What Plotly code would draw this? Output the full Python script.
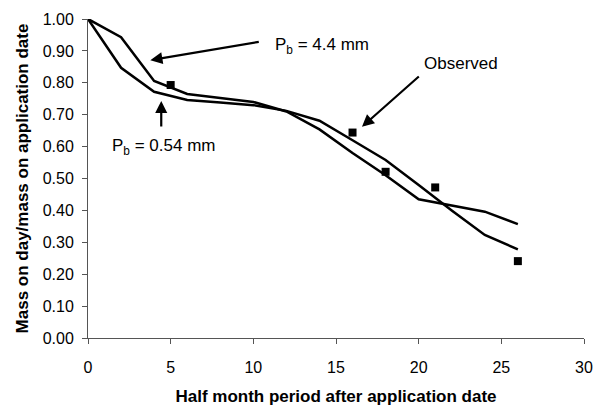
import plotly.graph_objects as go

# half-month periods after application
periods = [0, 2, 4, 6, 8, 10, 12, 14, 16, 18, 20, 22, 24, 26]

# simulated mass ratios
pb_44 = [1.00, 0.943, 0.806, 0.765, 0.752, 0.740, 0.710, 0.654, 0.580, 0.510, 0.435, 0.416, 0.396, 0.357]
pb_054 = [1.00, 0.847, 0.772, 0.746, 0.738, 0.730, 0.712, 0.681, 0.620, 0.558, 0.480, 0.400, 0.323, 0.278]

# observed values
obs_x = [5, 16, 18, 21, 26]
obs_y = [0.793, 0.644, 0.521, 0.472, 0.241]

y_ticks = [0.0, 0.1, 0.2, 0.3, 0.4, 0.5, 0.6, 0.7, 0.8, 0.9, 1.0]
x_ticks = [0, 5, 10, 15, 20, 25, 30]

font_family = "Arial, Liberation Sans, sans-serif"

fig = go.Figure()

for ys, name in [(pb_44, "Pb = 4.4 mm"), (pb_054, "Pb = 0.54 mm")]:
    fig.add_trace(
        go.Scatter(
            x=periods,
            y=ys,
            mode="lines",
            name=name,
            line=dict(color="black", width=2.5),
            cliponaxis=False,
        )
    )

fig.add_trace(
    go.Scatter(
        x=obs_x,
        y=obs_y,
        mode="markers",
        name="Observed",
        marker=dict(symbol="square", size=8, color="black"),
        cliponaxis=False,
    )
)

# labels with arrows (text at tail, arrow head at x/y)
labels = [
    ("P<sub>b</sub> = 4.4 mm", 11.2, 0.915, (3.77, 0.871), (10.42, 0.929)),
    ("P<sub>b</sub> = 0.54 mm", 1.35, 0.599, (4.43, 0.743), (4.43, 0.658)),
    ("Observed", 20.2, 0.862, (16.57, 0.662), (20.1, 0.824)),
]
for text, tx, ty, head, tail in labels:
    fig.add_annotation(
        x=tx, y=ty, text=text, showarrow=False, xanchor="left", yanchor="middle",
        font=dict(size=17, color="black", family=font_family),
    )
    fig.add_annotation(
        x=head[0], y=head[1], ax=tail[0], ay=tail[1], axref="x", ayref="y",
        text="", showarrow=True, arrowhead=2, arrowsize=1.1, arrowwidth=2.2,
        arrowcolor="black",
    )

axis_common = dict(
    showgrid=False,
    zeroline=False,
    showline=True,
    linecolor="#555555",
    linewidth=1,
    ticks="outside",
    ticklen=5,
    tickcolor="#555555",
    tickfont=dict(size=16, color="black", family=font_family),
)

fig.update_xaxes(
    range=[0, 30],
    tickvals=x_ticks,
    ticklabelstandoff=10,
    title=dict(
        text="<b>Half month period after application date</b>",
        font=dict(size=17, color="black", family=font_family),
        standoff=14,
    ),
    **axis_common,
)
fig.update_yaxes(
    range=[0, 1],
    tickvals=y_ticks,
    tickformat=".2f",
    ticklabelstandoff=5,
    title=dict(
        text="<b>Mass on day/mass on application date</b>",
        font=dict(size=17, color="black", family=font_family),
        standoff=9,
    ),
    **axis_common,
)

fig.update_layout(
    width=595,
    height=406,
    showlegend=False,
    plot_bgcolor="white",
    paper_bgcolor="white",
    margin=dict(l=88, r=11, t=19, b=68, autoexpand=False),
    font=dict(family=font_family, color="black"),
)

fig.write_html(
    "out.html",
    config={"displayModeBar": False},
    post_script="document.body.style.margin='0';",
)
